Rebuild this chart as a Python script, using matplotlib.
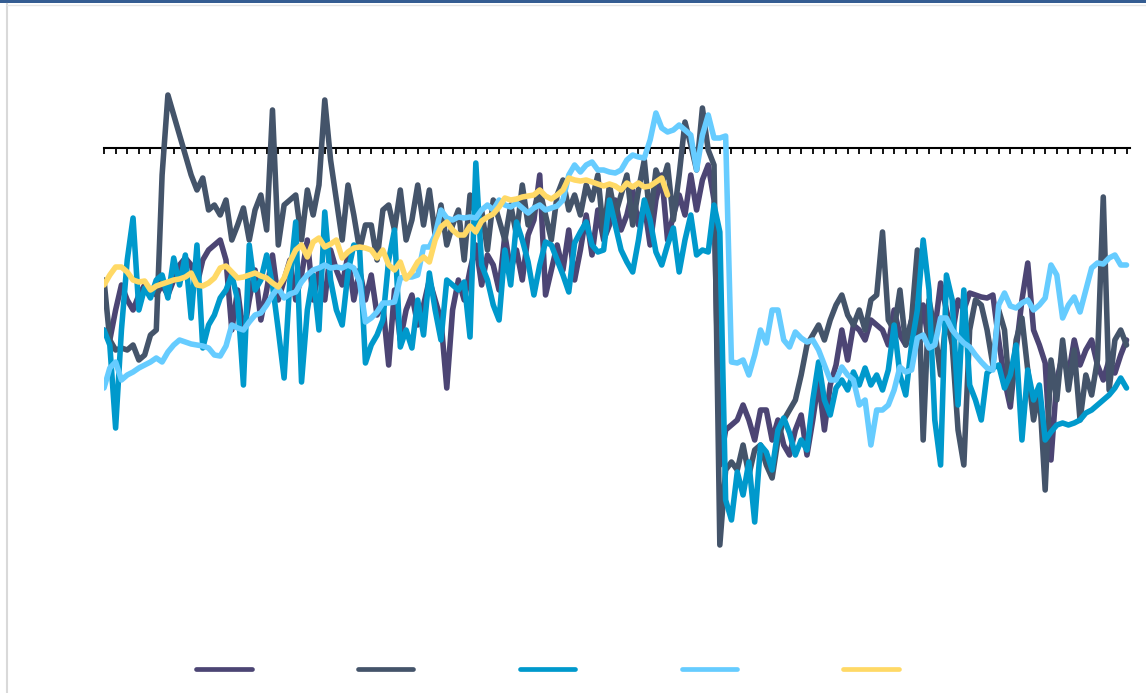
import numpy as np
import matplotlib
matplotlib.use('Agg')
import matplotlib.pyplot as plt
from matplotlib.patches import Rectangle
from matplotlib.lines import Line2D

# series values (weekly points, two per tick period)
purple = [-182, -192, -162, -137, -152, -162, -147, -137, -142, -147,
          -137, -147, -132, -117, -110, -117, -137, -112, -102, -97,
          -92, -112, -182, -142, -187, -152, -122, -172, -142, -107,
          -152, -132, -112, -152, -127, -92, -152, -122, -152, -102,
          -122, -137, -107, -152, -122, -152, -127, -167, -157, -217,
          -142, -192, -162, -147, -177, -157, -132, -152, -172, -240,
          -162, -132, -152, -122, -97, -137, -107, -117, -142, -87,
          -122, -102, -132, -87, -72, -27, -147, -122, -97, -122,
          -82, -132, -102, -67, -107, -62, -92, -77, -52, -82,
          -67, -42, -77, -57, -97, -52, -27, -92, -67, -47,
          -67, -27, -62, -32, -17, -52, -317, -282, -277, -272,
          -257, -272, -292, -262, -262, -292, -272, -297, -307, -282,
          -267, -307, -272, -232, -282, -237, -217, -182, -212, -177,
          -182, -192, -172, -177, -182, -197, -162, -187, -197, -172,
          -192, -157, -197, -182, -135, -162, -187, -152, -162, -145,
          -147, -149, -150, -147, -192, -232, -259, -202, -152, -115,
          -182, -197, -215, -312, -232, -207, -227, -192, -217, -202,
          -192, -217, -232, -212, -225, -207, -192]

slate = [-132, -192, -202, -200, -202, -197, -212, -207, -187, -182,
         -27, 53, 33, 13, -7, -27, -42, -30, -62, -57,
         -67, -52, -92, -77, -60, -92, -62, -47, -82, 38,
         -97, -57, -52, -47, -92, -42, -67, -37, 48, -12,
         -52, -92, -37, -67, -102, -77, -77, -112, -62, -57,
         -82, -42, -92, -72, -37, -77, -42, -87, -57, -97,
         -77, -62, -112, -47, -67, -62, -102, -52, -72, -92,
         -57, -87, -37, -77, -62, -42, -67, -92, -47, -32,
         -62, -47, -67, -37, -52, -27, -87, -37, -67, -47,
         -27, -77, -42, -12, -72, -22, -37, -17, -72, -27,
         26, 3, -22, 40, -2, -17, -397, -322, -314, -322,
         -297, -327, -302, -297, -317, -330, -292, -272, -262, -252,
         -227, -197, -187, -177, -192, -172, -157, -147, -167, -177,
         -162, -182, -152, -147, -84, -172, -182, -142, -197, -172,
         -102, -292, -152, -182, -227, -167, -197, -282, -317, -182,
         -152, -157, -182, -217, -162, -182, -252, -192, -170, -222,
         -272, -242, -342, -212, -252, -192, -242, -202, -272, -227,
         -247, -212, -49, -242, -192, -182, -197]

teal = [-182, -197, -280, -182, -112, -70, -162, -140, -150, -132,
        -127, -150, -110, -137, -107, -170, -97, -200, -177, -167,
        -150, -142, -127, -152, -237, -97, -142, -132, -107, -137,
        -182, -230, -132, -74, -234, -162, -127, -182, -64, -132,
        -162, -177, -124, -97, -102, -215, -197, -187, -172, -112,
        -82, -199, -182, -200, -152, -187, -125, -162, -192, -132,
        -137, -142, -134, -189, -15, -117, -132, -157, -172, -102,
        -137, -74, -92, -114, -147, -117, -94, -97, -112, -127,
        -144, -95, -84, -74, -97, -104, -102, -52, -77, -102,
        -114, -124, -92, -52, -72, -104, -117, -97, -80, -124,
        -92, -67, -107, -102, -104, -57, -84, -352, -372, -324,
        -347, -314, -374, -297, -304, -322, -282, -270, -285, -307,
        -292, -302, -252, -214, -252, -267, -240, -232, -242, -224,
        -237, -220, -237, -227, -242, -222, -177, -227, -247, -197,
        -162, -92, -142, -272, -317, -127, -152, -257, -142, -237,
        -252, -272, -225, -220, -217, -240, -227, -197, -292, -222,
        -252, -237, -292, -284, -277, -275, -277, -275, -272, -265,
        -262, -257, -252, -247, -240, -230, -240]

light_blue = [-240, -220, -214, -232, -227, -224, -220, -217, -214, -210,
              -214, -204, -197, -192, -194, -196, -197, -198, -200, -207,
              -208, -198, -177, -180, -182, -174, -167, -165, -157, -147,
              -140, -150, -146, -144, -134, -127, -122, -120, -117, -120,
              -119, -120, -117, -120, -134, -174, -170, -164, -155, -155,
              -154, -130, -129, -129, -127, -99, -99, -87, -62, -70,
              -72, -69, -70, -69, -70, -62, -57, -62, -52, -57,
              -59, -55, -60, -65, -60, -57, -62, -60, -58, -52,
              -27, -17, -24, -17, -14, -22, -22, -24, -25, -22,
              -12, -7, -9, -10, 8, 35, 20, 16, 18, 23,
              18, 13, -22, 13, 33, 10, 10, 12, -214, -215,
              -212, -227, -207, -182, -195, -162, -162, -192, -199, -184,
              -190, -194, -192, -202, -217, -232, -232, -219, -227, -232,
              -257, -252, -297, -262, -262, -257, -242, -219, -224, -222,
              -190, -187, -200, -197, -170, -170, -182, -189, -195, -199,
              -207, -214, -220, -222, -157, -145, -158, -160, -155, -152,
              -162, -157, -150, -117, -127, -170, -157, -149, -164, -142,
              -120, -115, -116, -110, -107, -117, -117]

yellow = [-137, -127, -119, -119, -124, -132, -134, -133, -142, -138,
          -136, -134, -132, -131, -129, -125, -137, -138, -135, -130,
          -120, -118, -124, -130, -129, -127, -125, -128, -130, -135,
          -139, -130, -114, -102, -97, -109, -94, -90, -99, -96,
          -92, -110, -104, -100, -99, -100, -102, -110, -102, -117,
          -122, -114, -131, -124, -114, -109, -114, -92, -79, -74,
          -82, -87, -87, -78, -84, -73, -69, -66, -59, -50,
          -52, -51, -49, -48, -47, -42, -48, -51, -47, -42,
          -30, -32, -33, -32, -34, -36, -38, -36, -38, -42,
          -35, -39, -35, -39, -38, -34, -30, -47]

colors = ['#4c4574', '#44546a', '#0099cc', '#66ccff', '#ffd966']
n_ticks = 89

plt.rcParams['figure.figsize'] = (11.46, 6.93)
fig = plt.figure(dpi=100)
ax = fig.add_axes([104 / 1146, 43 / 693, 1026 / 1146, 640 / 693])

all_series = [purple, slate, teal, light_blue, yellow]
handles = []
for vals, c in zip(all_series, colors):
    x = np.arange(len(vals)) * 0.5
    ax.plot(x, vals, c=c, lw=4.0, solid_joinstyle='round', solid_capstyle='round')
    handles.append(Line2D([], [], c=c, lw=3.4, solid_capstyle='round'))

ax.set_xlim(0, 88.3)
ax.set_ylim(-502, 138)
ax.set_xticks(np.arange(n_ticks))
ax.set_xticklabels([])
ax.set_yticks([])
for s in ['top', 'right', 'left']:
    ax.spines[s].set_visible(False)
ax.spines['bottom'].set_position(('data', 0))
ax.spines['bottom'].set_linewidth(1.5)
ax.spines['bottom'].set_zorder(1)
ax.tick_params(axis='x', direction='out', length=4, width=1.3, color='black')
ax.patch.set_alpha(0)

fig.legend(handles, [''] * 5, loc='center', bbox_to_anchor=(547.5 / 1146, 1 - 670 / 693),
           ncol=5, frameon=False, handlelength=4.0, handletextpad=0.0, columnspacing=7.65,
           fontsize=10)

# frame decoration
fig.add_artist(Rectangle((0, 1 - 3 / 693), 1, 3 / 693, transform=fig.transFigure,
                         color='#355d92', lw=0))
fig.add_artist(Line2D([6.5 / 1146, 6.5 / 1146], [0, 1 - 4 / 693], transform=fig.transFigure,
                      c='#d9d9d9', lw=1.5))
fig.add_artist(Line2D([6.5 / 1146, 1], [1 - 4.5 / 693, 1 - 4.5 / 693], transform=fig.transFigure,
                      c='#e6e6e6', lw=1))

plt.savefig('out.png', dpi=100)
